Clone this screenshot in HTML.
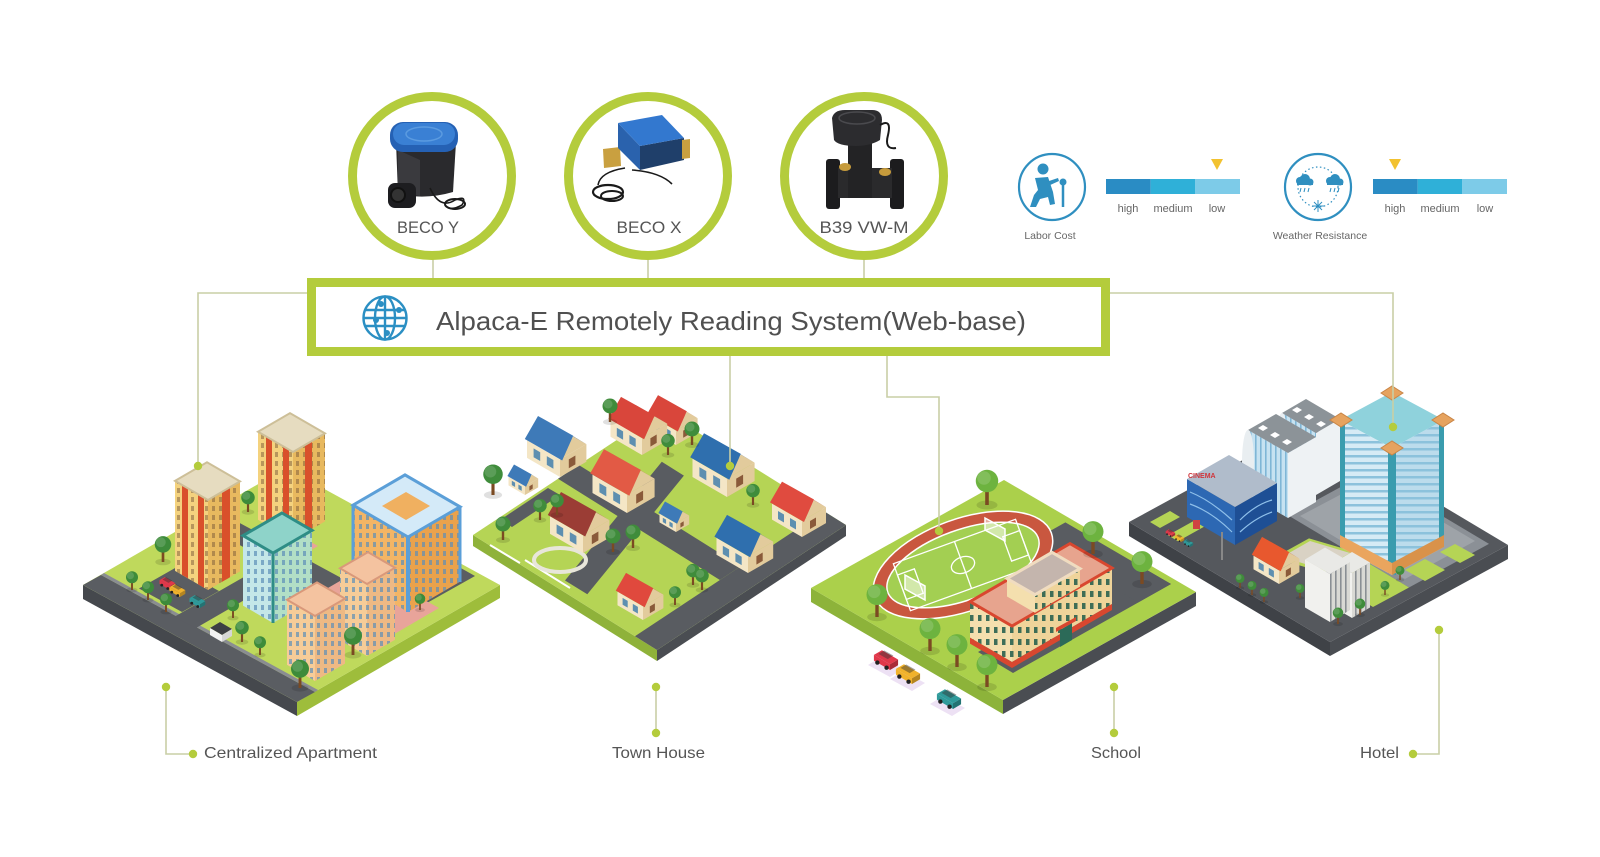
<!DOCTYPE html>
<html><head><meta charset="utf-8">
<style>
html,body{margin:0;padding:0;background:#fff;}
svg{display:block;}
text{font-family:"Liberation Sans",sans-serif;}
</style></head><body>
<svg width="1600" height="857" viewBox="0 0 1600 857" xmlns="http://www.w3.org/2000/svg">
<defs>
<pattern id="pw" width="7" height="9" patternUnits="userSpaceOnUse"><rect x="2" y="2" width="3" height="5" fill="#7a5a3a" opacity="0.5"/></pattern>
<pattern id="pb" width="7" height="9" patternUnits="userSpaceOnUse"><rect x="2" y="2" width="3" height="5" fill="#5d8fb8" opacity="0.7"/></pattern>
<pattern id="phs" width="10" height="7" patternUnits="userSpaceOnUse"><rect y="0" width="10" height="2.5" fill="#8cc2dc"/></pattern>
<pattern id="pvs" width="5" height="10" patternUnits="userSpaceOnUse"><rect width="1.6" height="10" fill="#7fb6d6"/></pattern>
<pattern id="pgs" width="5" height="10" patternUnits="userSpaceOnUse"><rect width="1.6" height="10" fill="#8a8f94"/></pattern>
<pattern id="pgw" width="8" height="12" patternUnits="userSpaceOnUse"><rect x="2" y="3" width="3.5" height="6" fill="#1f5a4a" opacity="0.85"/></pattern>
<g id="house">
 <polygon points="-30,-17.4 0,0 0,-16 -30,-33.4" fill="#f4e6c6"/>
 <polygon points="0,0 24,-13.9 24,-29.9 0,-16" fill="#e2cb9c"/>
 <polygon points="0,-16 24,-29.9 12,-37" fill="#e2cb9c"/>
 <polygon points="12,-37 -18,-54.4 -6,-47.3 24,-29.9" fill="currentColor"/>
 <polygon points="12,-37 -18,-54.4 -6,-47.3 24,-29.9" fill="#000" opacity="0.22"/>
 <polygon points="2,-15 -32,-34.6 -20,-55.4 12,-37.5" fill="currentColor"/>
 <polygon points="-24,-18 -18,-14.5 -18,-22.5 -24,-26" fill="#5e8fb0"/>
 <polygon points="-12,-11 -6,-7.5 -6,-15.5 -12,-19" fill="#5e8fb0"/>
 <polygon points="8,-8 14,-11.5 14,-19.5 8,-16" fill="#8a5a3a"/>
</g>
<g id="tree">
 <ellipse cx="0" cy="0" rx="7" ry="3" fill="#000" opacity=".12"/>
 <rect x="-1.2" y="-11" width="2.4" height="11" fill="#7b4a22"/>
 <circle cx="0" cy="-16" r="7.5" fill="currentColor"/>
 <circle cx="-2" cy="-18" r="4.5" fill="#fff" opacity=".15"/>
</g>
<g id="car">
 <polygon points="-14,-8.1 0,0 0,-5 -14,-13.1" fill="currentColor"/>
 <polygon points="0,0 7,-4.1 7,-9.1 0,-5" fill="currentColor"/>
 <polygon points="0,0 7,-4.1 7,-9.1 0,-5" fill="#000" opacity=".25"/>
 <polygon points="-14,-13.1 0,-5 7,-9.1 -7,-17.2" fill="currentColor"/>
 <polygon points="-10,-14 -2,-9.5 3,-12.5 -5,-17" fill="#333" opacity=".45"/>
 <circle cx="-11" cy="-6.5" r="1.9" fill="#222"/>
 <circle cx="-3" cy="-2" r="1.9" fill="#222"/>
</g>
</defs>
<rect width="1600" height="857" fill="#fff"/>

<!-- ===== TILE 1: Centralized Apartment ===== -->
<polygon points="83,585 297,702 297,716 83,599" fill="#45484d"/>
<polygon points="297,702 500,585 500,598 297,716" fill="#9ebd3b"/>
<polygon points="83,585 297,702 500,585 286,468" fill="#bfd95c"/>
<polygon points="83,585 297,702 315,692 101,575" fill="#5a5d62"/>
<polygon points="101,575 315,692 318,690 104,573" fill="#8a8d92"/>
<polygon points="174,617 196,628 291,573 270,562" fill="#5a5d62"/>
<polygon points="216,532 387,626 408,614 236,521" fill="#5a5d62"/>
<polygon points="139,588.5 182,612 219,591 176,567.5" fill="#5a5d62"/>
<polygon points="386,591 418,608 475,576 443,558" fill="#5a5d62"/>
<polygon points="303,602.5 378,643.5 439,608 364,567" fill="#e8a49a"/>
<polygon points="250,540 290,562 318,546 278,524" fill="#e8a49a"/>
<!-- B -->
<polygon points="258,519.7 293,540 293,452 258,431.7" fill="#f4d27e"/>
<polygon points="258,519.7 293,540 293,452 258,431.7" fill="url(#pw)"/>
<polygon points="293,540 325,521.4 325,433.4 293,452" fill="#e8b95f"/>
<polygon points="293,540 325,521.4 325,433.4 293,452" fill="url(#pw)"/>
<polygon points="266,436.3 272,439.8 272,527.8 266,524.3" fill="#d9502b"/>
<polygon points="283,446.2 289,449.7 289,537.7 283,534.2" fill="#d9502b"/>
<polygon points="305,445 312,441 312,529 305,533" fill="#d9502b"/>
<polygon points="258,431.7 293,452 325,433.4 290,413.1" fill="#e6dcc0" stroke="#cdbf98" stroke-width="2"/>
<!-- A -->
<polygon points="175,570.9 208,590 208,500 175,480.9" fill="#f4d27e"/>
<polygon points="175,570.9 208,590 208,500 175,480.9" fill="url(#pw)"/>
<polygon points="208,590 240,571.4 240,481.4 208,500" fill="#e8b95f"/>
<polygon points="208,590 240,571.4 240,481.4 208,500" fill="url(#pw)"/>
<polygon points="182,484.9 188,488.4 188,578.4 182,574.9" fill="#d9502b"/>
<polygon points="198,494.2 204,497.7 204,587.7 198,584.2" fill="#d9502b"/>
<polygon points="222,491.9 230,487.2 230,577.2 222,581.9" fill="#d9502b"/>
<polygon points="175,480.9 208,500 240,481.4 207,462.3" fill="#e6dcc0" stroke="#cdbf98" stroke-width="2"/>
<!-- D -->
<polygon points="353,580.1 408,612 408,537 353,505.1" fill="#f3b565"/>
<polygon points="353,580.1 408,612 408,537 353,505.1" fill="url(#pb)"/>
<polygon points="408,612 460,581.8 460,506.8 408,537" fill="#eaa24c"/>
<polygon points="408,612 460,581.8 460,506.8 408,537" fill="url(#pb)"/>
<polygon points="353,505.1 408,537 460,506.8 405,474.9" fill="#d4eaf8" stroke="#5b9fd8" stroke-width="3"/>
<polygon points="382,506 406,520 430,506 406,492" fill="#f0b060"/>
<line x1="408" y1="537" x2="408" y2="612" stroke="#5b9fd8" stroke-width="4"/>
<line x1="353" y1="505" x2="353" y2="580" stroke="#5b9fd8" stroke-width="3"/>
<line x1="460" y1="507" x2="460" y2="582" stroke="#5b9fd8" stroke-width="3"/>
<!-- C -->
<polygon points="243,605.6 273,623 273,553 243,535.6" fill="#c4e7e8"/>
<polygon points="243,605.6 273,623 273,553 243,535.6" fill="url(#pb)"/>
<polygon points="273,623 312,600.4 312,530.4 273,553" fill="#b2dfc6"/>
<polygon points="273,623 312,600.4 312,530.4 273,553" fill="url(#pb)"/>
<polygon points="243,535.6 273,553 312,530.4 282,513" fill="#8ed3c9" stroke="#2e8d86" stroke-width="3"/>
<line x1="273" y1="553" x2="273" y2="623" stroke="#2e8d86" stroke-width="3"/>
<!-- E2 -->
<polygon points="340,640.3 367,656 367,584 340,568.3" fill="#f6cc98"/>
<polygon points="340,640.3 367,656 367,584 340,568.3" fill="url(#pb)"/>
<polygon points="367,656 395,639.8 395,567.8 367,584" fill="#eeb984"/>
<polygon points="367,656 395,639.8 395,567.8 367,584" fill="url(#pb)"/>
<polygon points="340,568.3 367,584 395,567.8 368,552.1" fill="#f4c3a0" stroke="#d9987a" stroke-width="2"/>
<!-- E1 -->
<polygon points="287,664.8 315,681 315,616 287,599.8" fill="#f6cc98"/>
<polygon points="287,664.8 315,681 315,616 287,599.8" fill="url(#pb)"/>
<polygon points="315,681 345,663.6 345,598.6 315,616" fill="#eeb984"/>
<polygon points="315,681 345,663.6 345,598.6 315,616" fill="url(#pb)"/>
<polygon points="287,599.8 315,616 345,598.6 317,582.4" fill="#f4c3a0" stroke="#d9987a" stroke-width="2"/>
<!-- kiosk -->
<polygon points="210,628 222,635 232,629 220,622" fill="#3d3f44"/>
<polygon points="210,628 222,635 222,642 210,635" fill="#f2f2f2"/>
<polygon points="222,635 232,629 232,636 222,642" fill="#d6d6d6"/>
<g color="#3d8b3a">
<use href="#tree" transform="translate(132,590) scale(.8)"/>
<use href="#tree" transform="translate(148,600) scale(.8)"/>
<use href="#tree" transform="translate(166,612) scale(.8)"/>
<use href="#tree" transform="translate(163,562) scale(1.1)"/>
<use href="#tree" transform="translate(248,512) scale(.9)"/>
<use href="#tree" transform="translate(233,618) scale(.8)"/>
<use href="#tree" transform="translate(242,642) scale(.9)"/>
<use href="#tree" transform="translate(260,655) scale(.8)"/>
<use href="#tree" transform="translate(300,688) scale(1.2)"/>
<use href="#tree" transform="translate(353,655) scale(1.2)"/>
<use href="#tree" transform="translate(420,610) scale(.7)"/>
</g>
<use href="#car" color="#e0384a" transform="translate(170,590) scale(.75)"/>
<use href="#car" color="#f0b22c" transform="translate(180,597) scale(.75)"/>
<use href="#car" color="#2f9a9a" transform="translate(200,608) scale(.75)"/>

<!-- ===== TILE 2: Town House ===== -->
<polygon points="473,535 657,650 657,661 473,546" fill="#8fb23a"/>
<polygon points="657,650 846,525 846,536 657,661" fill="#4a4d52"/>
<polygon points="473,535 657,650 846,525 662,410" fill="#b5d455"/>
<polygon points="635,636.2 657,650 846,525 824,511.2" fill="#595c61"/>
<polygon points="565,580.5 587.3,594.3 683.9,475.6 661.8,461.8" fill="#595c61"/>
<polygon points="558,478.8 578.8,465 740.7,566.2 719.9,580" fill="#595c61"/>
<polygon points="500,520 512,527 560,495 548,488" fill="#595c61"/>
<polyline points="490,545 520,563" stroke="#fff" stroke-width="2" fill="none"/>
<polyline points="525,560 570,588" stroke="#fff" stroke-width="2" fill="none"/>
<ellipse cx="560" cy="560" rx="26" ry="12" fill="none" stroke="#e8e6da" stroke-width="4"/>
<use href="#house" color="#d9463b" transform="translate(676,445) scale(.9)"/>
<use href="#house" color="#d9463b" transform="translate(642,455) scale(1.05)"/>
<use href="#house" color="#3e7ab8" transform="translate(560,477) scale(1.1)"/>
<use href="#house" color="#3e7ab8" transform="translate(525,495) scale(.55)"/>
<use href="#house" color="#2f6fae" transform="translate(727,497) scale(1.15)"/>
<use href="#house" color="#e25a45" transform="translate(627,513) scale(1.15)"/>
<use href="#house" color="#3e7ab8" transform="translate(676,532) scale(.55)"/>
<use href="#house" color="#9b3d35" transform="translate(583,553) scale(1.1)"/>
<use href="#house" color="#e04b3f" transform="translate(802,537) scale(1.0)"/>
<use href="#house" color="#2f6fae" transform="translate(748,573) scale(1.05)"/>
<use href="#house" color="#e0493d" transform="translate(643,620) scale(.85)"/>
<g color="#3f8c3b">
<use href="#tree" transform="translate(493,495) scale(1.3)"/>
<use href="#tree" transform="translate(610,422) scale(1.0)"/>
<use href="#tree" transform="translate(692,445) scale(1.0)"/>
<use href="#tree" transform="translate(668,455) scale(.9)"/>
<use href="#tree" transform="translate(503,540) scale(1.0)"/>
<use href="#tree" transform="translate(540,520) scale(.9)"/>
<use href="#tree" transform="translate(557,515) scale(.9)"/>
<use href="#tree" transform="translate(613,552) scale(1.0)"/>
<use href="#tree" transform="translate(633,548) scale(1.0)"/>
<use href="#tree" transform="translate(693,585) scale(.9)"/>
<use href="#tree" transform="translate(702,590) scale(.9)"/>
<use href="#tree" transform="translate(675,605) scale(.8)"/>
<use href="#tree" transform="translate(753,505) scale(.9)"/>
</g>

<!-- ===== TILE 3: School ===== -->
<polygon points="811,588 1003,700 1003,714 811,602" fill="#8db33a"/>
<polygon points="1003,700 1196,592 1196,606 1003,714" fill="#4a4d52"/>
<polygon points="811,588 1003,700 1196,592 1004,480" fill="#abd04b"/>
<polygon points="978,652 1013,673 1171,584 1136,564" fill="#595c61"/>
<polygon points="1032.6,540.8 1065.4,522.4 1171,584 1138.2,602.4" fill="#595c61"/>
<ellipse cx="963" cy="565" rx="94" ry="46" transform="rotate(-20 963 565)" fill="#c9573f" stroke="#fff" stroke-width="1.5"/>
<ellipse cx="963" cy="565" rx="80" ry="35" transform="rotate(-20 963 565)" fill="#a3cf52" stroke="#fff" stroke-width="1.5"/>
<g transform="rotate(-20 963 565)" fill="none" stroke="#fff" stroke-width="1.3">
 <rect x="898" y="540" width="130" height="50"/>
 <line x1="963" y1="540" x2="963" y2="590"/>
 <ellipse cx="963" cy="565" rx="12" ry="8"/>
 <rect x="898" y="552" width="18" height="26"/>
 <rect x="1010" y="552" width="18" height="26"/>
</g>
<g fill="#fff" opacity=".85">
 <polygon points="905,575 925,586 925,600 905,589" fill-opacity=".6"/>
 <polygon points="985,518 1005,529 1005,541 985,530" fill-opacity=".6"/>
</g>
<g fill="none" stroke="#fff" stroke-width="1.5">
 <polygon points="905,575 925,586 925,600 905,589"/>
 <polygon points="985,518 1005,529 1005,541 985,530"/>
</g>
<!-- school -->
<polygon points="970,637.6 1012,662 1012,626 970,601.6" fill="#f4dfae"/>
<polygon points="970,637.6 1012,662 1012,626 970,601.6" fill="url(#pgw)"/>
<polygon points="1012,662 1112,604 1112,568 1012,626" fill="#efd49a"/>
<polygon points="1012,662 1112,604 1112,568 1012,626" fill="url(#pgw)"/>
<polygon points="970,637.6 1012,662 1112,604 1112,610 1012,668 970,643.6" fill="#d9472f"/>
<polygon points="970,601.6 1012,626 1112,568 1070,543.6" fill="#e7a48e" stroke="#d9472f" stroke-width="3"/>
<polygon points="1007,596.5 1035,612.7 1035,594.7 1007,578.5" fill="#f4dfae"/>
<polygon points="1035,612.7 1080,586.6 1080,568.6 1035,594.7" fill="#efd49a"/>
<polygon points="1035,612.7 1080,586.6 1080,568.6 1035,594.7" fill="url(#pgw)"/>
<polygon points="1007,578.5 1035,594.7 1080,568.6 1052,552.4" fill="#c4b5ad" stroke="#f0dcc0" stroke-width="3"/>
<polygon points="1060,630 1072,623 1072,640 1060,647" fill="#2c6a58"/>
<polygon points="1056,628 1076,617 1076,621 1056,632" fill="#d9472f"/>
<g color="#6db33f">
<use href="#tree" transform="translate(987,505) scale(1.5)"/>
<use href="#tree" transform="translate(877,617) scale(1.4)"/>
<use href="#tree" transform="translate(1093,554) scale(1.4)"/>
<use href="#tree" transform="translate(1142,584) scale(1.4)"/>
<use href="#tree" transform="translate(930,651) scale(1.4)"/>
<use href="#tree" transform="translate(957,667) scale(1.4)"/>
<use href="#tree" transform="translate(987,687) scale(1.4)"/>
</g>
<polygon points="868,665 890,677 903,669 881,657" fill="#e6d4ef" opacity=".7"/>
<polygon points="890,679 912,691 925,683 903,671" fill="#e6d4ef" opacity=".7"/>
<polygon points="930,704 952,716 965,708 943,696" fill="#e6d4ef" opacity=".7"/>
<use href="#car" color="#e0384a" transform="translate(890,670) scale(1.15)"/>
<use href="#car" color="#f0b22c" transform="translate(912,684) scale(1.15)"/>
<use href="#car" color="#2f9a9a" transform="translate(953,709) scale(1.15)"/>

<!-- ===== TILE 4: Hotel ===== -->
<polygon points="1129,522 1330,642 1330,656 1129,536" fill="#3f4247"/>
<polygon points="1330,642 1508,545 1508,559 1330,656" fill="#4a4d52"/>
<polygon points="1129,522 1330,642 1508,545 1307,425" fill="#55585d"/>
<polygon points="1168,535.2 1178,541.2 1213,521.8 1203,515.8" fill="#b5d455"/>
<polygon points="1150,522 1160,528 1180,517 1170,511" fill="#b5d455"/>
<polygon points="1288.4,515.5 1409,587.5 1489,543.9 1368.4,471.9" fill="#8b9096"/>
<polygon points="1300,516 1405,579 1475,541 1370,479" fill="#9ea3a8"/>
<polygon points="1405,570 1425,581 1445,570 1425,559" fill="#b5d455"/>
<polygon points="1440,552 1460,563 1475,555 1455,544" fill="#b5d455"/>
<polygon points="1333,583 1373,607 1409,587.5 1369,563.5" fill="#b5d455"/>
<polygon points="1274,557.8 1324,572.8 1360,553.4 1309,538.4" fill="#b5d455"/>
<polygon points="1282,557 1322,569 1350,553 1310,541" fill="#d9d2c4"/>
<!-- tower2 -->
<polygon points="1282,475 1316,495 1316,433 1282,413" fill="#c6e2f1"/>
<polygon points="1282,475 1316,495 1316,433 1282,413" fill="url(#pvs)"/>
<polygon points="1316,495 1340,481 1340,419 1316,433" fill="#eef2f4"/>
<polygon points="1282,413 1316,433 1340,419 1306,399" fill="#8c9398"/>
<ellipse cx="1282" cy="444" rx="6" ry="31" fill="#e9eef1"/>
<polygon points="1292,410 1297,413 1302,410 1297,407" fill="#fff"/>
<polygon points="1304,417 1309,420 1314,417 1309,414" fill="#fff"/>
<polygon points="1316,424 1321,427 1326,424 1321,421" fill="#fff"/>
<!-- tower1 -->
<polygon points="1248,495 1288,518 1288,453 1248,430" fill="#c6e2f1"/>
<polygon points="1248,495 1288,518 1288,453 1248,430" fill="url(#pvs)"/>
<polygon points="1288,518 1316,502 1316,437 1288,453" fill="#eef2f4"/>
<polygon points="1248,430 1288,453 1316,437 1276,414" fill="#8c9398"/>
<ellipse cx="1248" cy="462" rx="6" ry="32" fill="#e9eef1"/>
<polygon points="1258,428 1263,431 1268,428 1263,425" fill="#fff"/>
<polygon points="1270,435 1275,438 1280,435 1275,432" fill="#fff"/>
<polygon points="1282,442 1287,445 1292,442 1287,439" fill="#fff"/>
<!-- cinema -->
<polygon points="1187,517 1235,545 1235,507 1187,479" fill="#2d68b3"/>
<polygon points="1235,545 1277,521 1277,483 1235,507" fill="#1e4f95"/>
<polygon points="1187,479 1235,507 1277,483 1229,455" fill="#b0bccb"/>
<path d="M1190,492 Q1210,500 1232,520 M1190,504 Q1212,512 1232,532 M1240,520 Q1255,505 1272,500 M1240,532 Q1255,518 1272,512" stroke="#8fc0ea" stroke-width="1.2" fill="none"/>
<rect x="1193" y="520" width="7" height="9" fill="#d04242"/>
<text x="1188" y="478" font-size="7" font-weight="bold" fill="#d0343a">CINEMA</text>
<!-- main tower -->
<polygon points="1340,547 1392,575 1392,448 1340,420" fill="#d6ebf5"/>
<polygon points="1340,547 1392,575 1392,448 1340,420" fill="url(#phs)"/>
<polygon points="1392,575 1444,547 1444,420 1392,448" fill="#bcdcec"/>
<polygon points="1392,575 1444,547 1444,420 1392,448" fill="url(#phs)"/>
<polygon points="1340,420 1392,448 1444,420 1392,392" fill="#8fd2dc"/>
<polygon points="1388,450 1396,450 1396,575 1388,573" fill="#3a9cae"/>
<polygon points="1340,420 1345,422 1345,549 1340,547" fill="#3a9cae"/>
<polygon points="1439,422 1444,420 1444,547 1439,549" fill="#3a9cae"/>
<polygon points="1340,535 1392,563 1392,575 1340,547" fill="#eaa55e"/>
<polygon points="1392,563 1444,535 1444,547 1392,575" fill="#d9924a"/>
<g fill="#e6a35f" stroke="#c98546" stroke-width="1">
<polygon points="1381,448 1392,441 1403,448 1392,455"/>
<polygon points="1330,420 1341,413 1352,420 1341,427"/>
<polygon points="1432,420 1443,413 1454,420 1443,427"/>
<polygon points="1381,393 1392,386 1403,393 1392,400"/>
</g>
<!-- cafe -->
<use href="#house" color="#e8582e" transform="translate(1279,584) scale(.85)"/>
<!-- white buildings -->
<polygon points="1334,607.5 1352,618 1352,573 1334,562.5" fill="#f1f1ee"/>
<polygon points="1352,618 1370,607.5 1370,562.5 1352,573" fill="#d9d9d4"/>
<polygon points="1352,618 1370,607.5 1370,562.5 1352,573" fill="url(#pgs)"/>
<polygon points="1334,562.5 1352,573 1370,562.5 1352,552" fill="#e9e9e6"/>
<polygon points="1305,607.5 1330,622 1330,574 1305,559.5" fill="#f1f1ee"/>
<polygon points="1330,622 1350,610 1350,562 1330,574" fill="#d9d9d4"/>
<polygon points="1330,622 1350,610 1350,562 1330,574" fill="url(#pgs)"/>
<polygon points="1305,559.5 1330,574 1350,562 1325,547.5" fill="#e9e9e6"/>
<line x1="1222" y1="532" x2="1222" y2="560" stroke="#888" stroke-width="2"/>
<use href="#car" color="#e0384a" transform="translate(1172,537) scale(.45)"/>
<use href="#car" color="#f0b22c" transform="translate(1181,542) scale(.45)"/>
<use href="#car" color="#2f9a9a" transform="translate(1190,547) scale(.45)"/>
<g color="#3f8c3b">
<use href="#tree" transform="translate(1240,588) scale(.6)"/>
<use href="#tree" transform="translate(1252,595) scale(.6)"/>
<use href="#tree" transform="translate(1264,602) scale(.6)"/>
<use href="#tree" transform="translate(1300,598) scale(.6)"/>
<use href="#tree" transform="translate(1338,624) scale(.7)"/>
<use href="#tree" transform="translate(1360,615) scale(.7)"/>
<use href="#tree" transform="translate(1385,595) scale(.6)"/>
<use href="#tree" transform="translate(1400,580) scale(.6)"/>
</g>

<!-- ===== CONNECTORS ===== -->
<g fill="none" stroke="#c9cfa6" stroke-width="1.6">
 <polyline points="307,293 198,293 198,466"/>
 <polyline points="1110,293 1393,293 1393,427"/>
 <line x1="433" y1="258" x2="433" y2="279"/>
 <line x1="648" y1="258" x2="648" y2="279"/>
 <line x1="864" y1="258" x2="864" y2="279"/>
 <line x1="730" y1="356" x2="730" y2="466"/>
 <polyline points="887,356 887,397 939,397 939,531"/>
 <polyline points="166,687 166,754 193,754"/>
 <line x1="656" y1="687" x2="656" y2="733"/>
 <line x1="1114" y1="687" x2="1114" y2="733"/>
 <polyline points="1439,630 1439,754 1413,754"/>
</g>
<g fill="#b4cc3c">
 <circle cx="198" cy="466" r="4.2"/>
 <circle cx="1393" cy="427" r="4.2"/>
 <circle cx="730" cy="466" r="4.2"/>
 <circle cx="939" cy="531" r="4.2"/>
 <circle cx="166" cy="687" r="4.2"/>
 <circle cx="193" cy="754" r="4.2"/>
 <circle cx="656" cy="687" r="4.2"/>
 <circle cx="656" cy="733" r="4.2"/>
 <circle cx="1114" cy="687" r="4.2"/>
 <circle cx="1114" cy="733" r="4.2"/>
 <circle cx="1439" cy="630" r="4.2"/>
 <circle cx="1413" cy="754" r="4.2"/>
</g>

<!-- ===== DEVICE CIRCLES ===== -->
<g fill="#fff" stroke="#b4cc3c" stroke-width="9">
 <circle cx="432" cy="176" r="79.5"/>
 <circle cx="648" cy="176" r="79.5"/>
 <circle cx="864" cy="176" r="79.5"/>
</g>
<!-- BECO Y -->
<path d="M396,142 L456,142 L453,192 Q426,200 398,194 Z" fill="#2a2a2d"/>
<path d="M398,150 L420,160 L420,196 L398,192 Z" fill="#3a3a3e"/>
<rect x="390" y="122" width="68" height="30" rx="13" fill="#2561b4"/>
<rect x="393" y="123" width="62" height="22" rx="11" fill="#3a80d4"/>
<ellipse cx="424" cy="134" rx="18" ry="7" fill="none" stroke="#5b9be0" stroke-width="1.5"/>
<rect x="388" y="183" width="28" height="25" rx="7" fill="#1d1d20"/>
<circle cx="398" cy="195" r="7" fill="#333" stroke="#111" stroke-width="2"/>
<path d="M430,188 Q440,210 455,200 Q468,195 462,205 Q450,212 445,205" fill="none" stroke="#1a1a1a" stroke-width="1.6"/>
<ellipse cx="455" cy="204" rx="10" ry="5" fill="none" stroke="#1a1a1a" stroke-width="2"/>
<!-- BECO X -->
<polygon points="603,149 620,147 621,166 604,168" fill="#c9a040"/>
<polygon points="618,123 640,146 640,170 618,148" fill="#2a62ad"/>
<polygon points="640,146 684,138 684,160 640,170" fill="#1f3f6a"/>
<polygon points="618,123 662,115 684,138 640,146" fill="#3378cf"/>
<polygon points="682,140 690,139 690,158 682,159" fill="#c9a040"/>
<path d="M625,168 Q600,172 598,185 M632,170 Q660,172 672,184" fill="none" stroke="#1a1a1a" stroke-width="1.6"/>
<ellipse cx="608" cy="192" rx="15" ry="7" fill="none" stroke="#1a1a1a" stroke-width="2.2"/>
<ellipse cx="612" cy="196" rx="11" ry="5" fill="none" stroke="#1a1a1a" stroke-width="2"/>
<!-- B39 VW-M -->
<rect x="826" y="159" width="14" height="50" rx="3" fill="#1c1c1e"/>
<rect x="890" y="159" width="14" height="50" rx="3" fill="#1c1c1e"/>
<rect x="838" y="168" width="54" height="30" fill="#2a2a2c"/>
<rect x="848" y="138" width="24" height="60" fill="#232325"/>
<path d="M832,118 Q834,110 845,110 L872,110 Q882,110 882,120 L880,140 Q870,146 856,146 Q838,146 834,140 Z" fill="#2c2c2f"/>
<ellipse cx="857" cy="118" rx="18" ry="6" fill="none" stroke="#4a4a4e" stroke-width="1.5"/>
<ellipse cx="845" cy="167" rx="6" ry="4" fill="#c69b3c"/>
<ellipse cx="885" cy="172" rx="6" ry="4" fill="#c69b3c"/>
<path d="M880,125 Q892,118 888,135 Q884,150 896,148" fill="none" stroke="#1a1a1a" stroke-width="2"/>
<!-- labels -->
<g font-size="17" fill="#555" text-anchor="middle">
 <text x="428" y="233" textLength="62" lengthAdjust="spacingAndGlyphs">BECO Y</text>
 <text x="649" y="233" textLength="65" lengthAdjust="spacingAndGlyphs">BECO X</text>
 <text x="864" y="233" textLength="89" lengthAdjust="spacingAndGlyphs">B39 VW-M</text>
</g>

<!-- ===== MAIN BOX ===== -->
<rect x="311.5" y="282.5" width="794" height="69" fill="#fff" stroke="#b4cc3c" stroke-width="9"/>
<g fill="none" stroke="#2b8fc3" stroke-width="2.4">
 <circle cx="385" cy="318" r="21.5"/>
 <ellipse cx="385" cy="318" rx="10" ry="21.5"/>
 <line x1="385" y1="296.5" x2="385" y2="339.5"/>
 <line x1="365" y1="310" x2="405" y2="310"/>
 <line x1="363.5" y1="318" x2="406.5" y2="318"/>
 <line x1="365" y1="326" x2="405" y2="326"/>
</g>
<g fill="#2b8fc3">
 <circle cx="381" cy="304" r="3"/>
 <circle cx="399" cy="310" r="3"/>
 <circle cx="376" cy="320" r="3"/>
 <circle cx="387" cy="333" r="3"/>
</g>
<text x="436" y="330" font-size="26" fill="#505050" textLength="590" lengthAdjust="spacingAndGlyphs">Alpaca-E Remotely Reading System(Web-base)</text>

<!-- ===== RIGHT PANEL ===== -->
<circle cx="1052" cy="187" r="33" fill="none" stroke="#2f8fc0" stroke-width="2.2"/>
<g fill="#2f8fc0">
 <circle cx="1043" cy="169" r="5.5"/>
 <path d="M1035,178 L1048,177 L1053,192 L1044,196 L1038,190 Z"/>
 <path d="M1038,190 L1053,192 L1055,204 L1050,205 L1048,197 L1040,199 L1036,207 L1030,207 L1034,195 Z"/>
 <path d="M1046,182 L1058,178 L1059,181 L1048,186 Z"/>
 <circle cx="1063" cy="182" r="3.5"/>
</g>
<line x1="1063" y1="184" x2="1063" y2="207" stroke="#2f8fc0" stroke-width="2.5"/>
<circle cx="1318" cy="187" r="33" fill="none" stroke="#2f8fc0" stroke-width="2.2"/>
<circle cx="1318" cy="187" r="20" fill="none" stroke="#2f8fc0" stroke-width="1.2" stroke-dasharray="1.5 2.5"/>
<g fill="#2f8fc0">
 <circle cx="1300" cy="181" r="4"/><circle cx="1305" cy="179" r="5"/><circle cx="1310" cy="182" r="3.5"/>
 <rect x="1297" y="181" width="16" height="4"/>
 <circle cx="1330" cy="181" r="4"/><circle cx="1335" cy="179" r="5"/><circle cx="1340" cy="182" r="3.5"/>
 <rect x="1327" y="181" width="16" height="4"/>
</g>
<g stroke="#2f8fc0" stroke-width="1">
 <line x1="1301" y1="188" x2="1300" y2="192"/><line x1="1305" y1="188" x2="1304" y2="192"/><line x1="1309" y1="188" x2="1308" y2="192"/>
 <line x1="1331" y1="188" x2="1330" y2="192"/><line x1="1335" y1="188" x2="1334" y2="192"/><line x1="1339" y1="188" x2="1338" y2="192"/>
 <line x1="1312" y1="206" x2="1324" y2="206"/><line x1="1318" y1="200" x2="1318" y2="212"/>
 <line x1="1314" y1="202" x2="1322" y2="210"/><line x1="1322" y1="202" x2="1314" y2="210"/>
</g>
<rect x="1106" y="179" width="44.7" height="15" fill="#2a8cc4"/>
<rect x="1150.7" y="179" width="44.6" height="15" fill="#2fb0d8"/>
<rect x="1195.3" y="179" width="44.7" height="15" fill="#7dcbe8"/>
<rect x="1373" y="179" width="44.7" height="15" fill="#2a8cc4"/>
<rect x="1417.7" y="179" width="44.6" height="15" fill="#2fb0d8"/>
<rect x="1462.3" y="179" width="44.7" height="15" fill="#7dcbe8"/>
<polygon points="1211,159 1223,159 1217,170" fill="#f2c230"/>
<polygon points="1389,159 1401,159 1395,170" fill="#f2c230"/>
<g font-size="11" fill="#666" text-anchor="middle">
 <text x="1128" y="212">high</text>
 <text x="1173" y="212">medium</text>
 <text x="1217" y="212">low</text>
 <text x="1395" y="212">high</text>
 <text x="1440" y="212">medium</text>
 <text x="1485" y="212">low</text>
 <text x="1050" y="239" font-size="10.5">Labor Cost</text>
 <text x="1320" y="239" font-size="10.5">Weather Resistance</text>
</g>

<!-- ===== BOTTOM LABELS ===== -->
<g font-size="16" fill="#555">
 <text x="204" y="758" textLength="173" lengthAdjust="spacingAndGlyphs">Centralized Apartment</text>
 <text x="612" y="758" textLength="93" lengthAdjust="spacingAndGlyphs">Town House</text>
 <text x="1091" y="758" textLength="50" lengthAdjust="spacingAndGlyphs">School</text>
 <text x="1360" y="758" textLength="39" lengthAdjust="spacingAndGlyphs">Hotel</text>
</g>
</svg>
</body></html>
